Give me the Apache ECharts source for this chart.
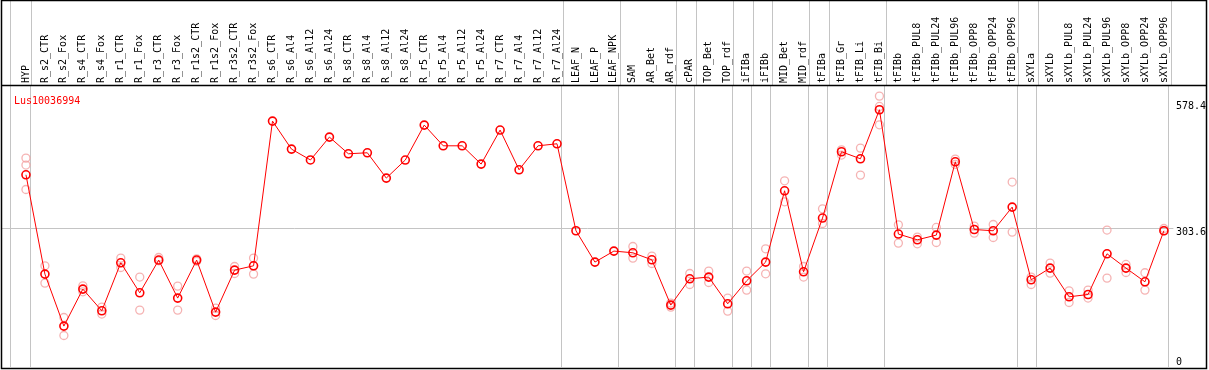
<!DOCTYPE html>
<html>
<head>
<meta charset="utf-8">
<script src="https://cdn.jsdelivr.net/npm/echarts@6/dist/echarts.min.js"></script>
<style>html,body{margin:0;padding:0;background:#fff;}#c{width:1209px;height:370px;}</style>
</head>
<body>
<div id="c"></div>
<script>
const geneName = 'Lus10036994';
const categories = ['HYP','R_s2_CTR','R_s2_Fox','R_s4_CTR','R_s4_Fox','R_r1_CTR','R_r1_Fox','R_r3_CTR','R_r3_Fox','R_r1s2_CTR','R_r1s2_Fox','R_r3s2_CTR','R_r3s2_Fox','R_s6_CTR','R_s6_Al4','R_s6_Al12','R_s6_Al24','R_s8_CTR','R_s8_Al4','R_s8_Al12','R_s8_Al24','R_r5_CTR','R_r5_Al4','R_r5_Al12','R_r5_Al24','R_r7_CTR','R_r7_Al4','R_r7_Al12','R_r7_Al24','LEAF_N','LEAF_P','LEAF_NPK','SAM','AR_Bet','AR_rdf','cPAR','TOP_Bet','TOP_rdf','iFIBa','iFIBb','MID_Bet','MID_rdf','tFIBa','tFIB_Gr','tFIB_Li','tFIB_Bi','tFIBb','tFIBb_PUL8','tFIBb_PUL24','tFIBb_PUL96','tFIBb_OPP8','tFIBb_OPP24','tFIBb_OPP96','sXYLa','sXYLb','sXYLb_PUL8','sXYLb_PUL24','sXYLb_PUL96','sXYLb_OPP8','sXYLb_OPP24','sXYLb_OPP96'];
const meanValues = [419.2,202.6,89.2,169.9,122.6,227.3,161.8,233.2,150.3,233.2,119.7,211.3,220.7,536.3,475.2,451.5,501.4,465.0,467.2,412.0,451.3,527.6,482.4,482.4,442.5,516.7,430.1,482.4,486.8,297.1,228.8,252.8,249.1,233.8,135.0,192.4,196.1,137.8,188.0,228.8,384.3,207.6,324.8,469.4,454.1,561.0,289.9,277.4,287.7,447.5,299.9,297.1,348.7,190.2,215.7,153.1,158.1,246.9,215.7,185.8,297.1];
const replicateValues = [[455.6,440.4,387.1],[220.7,183.0],[108.0,68.7],[177.1,164.0],[130.6,115.4],[237.5,217.0],[196.1,124.1],[238.8,231.6],[176.4,124.1],[236.0,230.5],[128.5,112.3],[219.2,203.9],[237.5,202.6],
[],[],[],[],[],[],[],[],[],[],[],[],[],[],[],[],[],[],[],
[262.8,237.5],[241.9,225.7],[139.4,130.6],[203.9,179.9],[209.2,184.3],[150.3,121.9],[209.2,167.7],[257.8,203.3],[406.1,360.3],[219.2,196.1],[345.0,313.0],[473.7,462.2],[477.4,418.5],[590.8,568.2,528.2],[310.1,270.2],[283.3,268.7],[304.3,271.5],[453.4,441.7],[307.3,292.0],[310.8,282.4],[403.3,294.2],[196.1,179.9],[226.6,204.8],[166.2,140.7],[167.7,150.3],[298.6,193.9],[223.6,206.1],[205.5,167.7],[302.1,297.1]];
const separatorPositions = [-0.83,0.25,28.25,31.25,34.25,35.25,37.25,38.25,39.25,41.25,42.25,45.25,52.25,53.25,60.25];
const yTickValues = [0, 303.6, 578.4];
const referenceValue = 303.6;

const FONT = 'DejaVu Sans Mono';
const meanData = meanValues.map((v, i) => [i, v]);
const repData = [];
replicateValues.forEach((arr, i) => arr.forEach(v => repData.push([i, v])));
const grayColor = '#c4c4c4';

const xCommon = { type: 'value', min: -1.3, max: 60.5 };
const gridX = { left: 1.3, right: 33.5 };
// the first split line is not drawn, so a value hidden under the left border leads the list
const separatorAxisParts = {
  axisLine: { show: false },
  axisTick: { show: false, customValues: [xCommon.min + 0.02].concat(separatorPositions) },
  splitLine: { show: true, showMinLine: true, lineStyle: { color: grayColor, width: 1 } }
};
const chart = echarts.init(document.getElementById('c'), null, { renderer: 'canvas' });
chart.setOption({
  animation: false,
  backgroundColor: '#fff',
  title: { text: geneName, left: 9, top: 91, textStyle: { color: '#f00', fontSize: 10, fontWeight: 'normal', fontFamily: FONT } },
  grid: [
    Object.assign({ top: 0.5, height: 84.5 }, gridX),
    Object.assign({ top: 85, height: 282 }, gridX)
  ],
  xAxis: [
    Object.assign({ gridIndex: 0, show: true, axisLabel: { show: false } }, separatorAxisParts, xCommon),
    Object.assign({ gridIndex: 1, position: 'top',
      axisLabel: { customValues: categories.map((c, i) => i), rotate: 90, margin: 2, fontSize: 10, fontFamily: FONT, color: '#000',
        formatter: v => categories[Math.round(v)] || '' } }, separatorAxisParts, xCommon)
  ],
  yAxis: [
    { gridIndex: 0, type: 'value', min: 0, max: 1, show: false },
    { gridIndex: 1, type: 'value', min: 0, max: 615, position: 'right',
      axisLine: { show: false },
      axisTick: { show: false, customValues: [referenceValue] },
      splitLine: { show: true, lineStyle: { color: grayColor, width: 1 } },
      axisLabel: { customValues: yTickValues.filter(v => v > 0), verticalAlign: 'top', margin: 2.5,
        fontSize: 10, fontFamily: FONT, color: '#000', formatter: v => String(v) } },
    { gridIndex: 1, type: 'value', min: 0, max: 615, position: 'right',
      axisLine: { show: false }, axisTick: { show: false }, splitLine: { show: false },
      axisLabel: { customValues: yTickValues.filter(v => v === 0), verticalAlign: 'bottom', margin: 2.5,
        fontSize: 10, fontFamily: FONT, color: '#000', formatter: v => String(v) } }
  ],
  series: [
    { type: 'scatter', xAxisIndex: 1, yAxisIndex: 1, data: repData, symbol: 'circle', symbolSize: 8, z: 3,
      itemStyle: { color: 'rgba(0,0,0,0)', borderColor: '#f2a0a0', borderWidth: 1.3 } },
    { type: 'line', xAxisIndex: 1, yAxisIndex: 1, data: meanData, symbol: 'circle', symbolSize: 8, z: 5,
      showSymbol: true,
      lineStyle: { color: '#f00', width: 1 },
      itemStyle: { color: 'rgba(0,0,0,0)', borderColor: '#f00', borderWidth: 1.6 } }
  ],
  graphic: [
    { type: 'rect', silent: true, z: 100, shape: { x: 1.5, y: 0.5, width: 1205, height: 368 },
      style: { fill: 'none', stroke: '#000', lineWidth: 1.5 } },
    { type: 'line', silent: true, z: 100, shape: { x1: 1, y1: 85.5, x2: 1207, y2: 85.5 },
      style: { stroke: '#000', lineWidth: 1.5 } }
  ]
});
</script>
</body>
</html>
